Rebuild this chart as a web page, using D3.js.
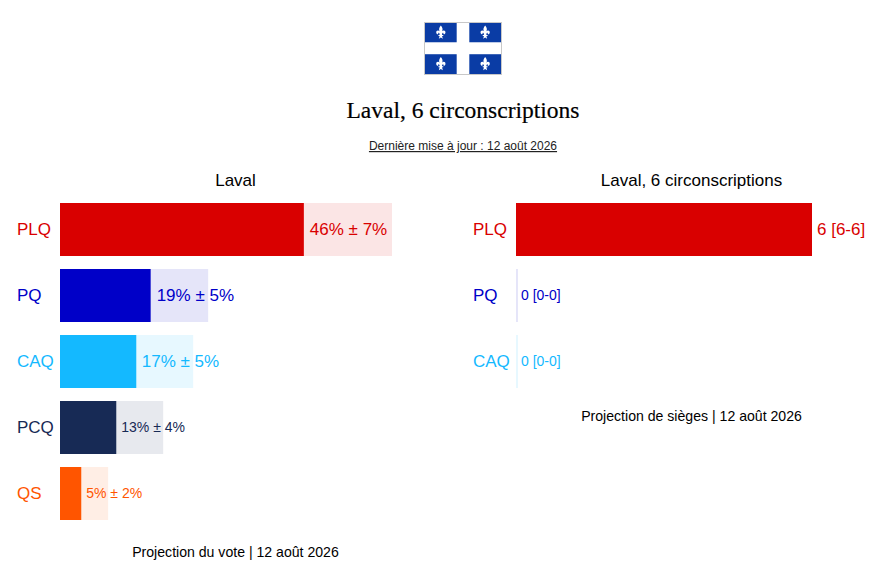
<!DOCTYPE html>
<html>
<head>
<meta charset="utf-8">
<script src="https://cdn.jsdelivr.net/npm/d3@7"></script>
<style>
  html, body { margin: 0; padding: 0; background: #fff; }
  text { font-family: "Liberation Sans", Arial, sans-serif; }
</style>
</head>
<body>
<div id="chart"></div>
<script>
// vote projection
const voteParties = ["PLQ", "PQ", "CAQ", "PCQ", "QS"];
const voteLow = [39, 14.5, 12.2, 9, 3.4];
const voteHigh = [53.1, 23.7, 21.3, 16.5, 7.7];
const voteLabels = ["46% ± 7%", "19% ± 5%", "17% ± 5%", "13% ± 4%", "5% ± 2%"];

// seat projection
const seatParties = ["PLQ", "PQ", "CAQ"];
const seatLow = [6, 0, 0];
const seatHigh = [6, 0.04, 0.04];
const seatLabels = ["6 [6-6]", "0 [0-0]", "0 [0-0]"];

const colors = { PLQ: "#d90000", PQ: "#0000c8", CAQ: "#14b9ff", PCQ: "#172a55", QS: "#ff5500" };

const svg = d3.select("#chart").append("svg")
    .attr("width", 882)
    .attr("height", 580)
    .style("display", "block");

function page_text(x, y, str, size) {
    return svg.append("text")
        .attr("x", x)
        .attr("y", y)
        .attr("text-anchor", "middle")
        .attr("font-size", size)
        .attr("fill", "#000")
        .text(str);
}

// flag
const flagX = d3.scaleLinear().domain([0, 1]).range([424.5, 501.5]);
const flagY = d3.scaleLinear().domain([0, 1]).range([22.5, 74.5]);
const flag = svg.append("g");
flag.append("rect")
    .attr("x", flagX(0)).attr("y", flagY(0))
    .attr("width", flagX(1) - flagX(0)).attr("height", flagY(1) - flagY(0))
    .attr("fill", "#fff").attr("stroke", "#c8c8c8");
const lily = "M0,-7C1.6,-5 2,-3.6 1.1,-1.6C2,-3 4.4,-2.8 4.2,-0.6C4.1,0.8 3,1.3 2.3,0.9C2.6,0.2 2.2,-0.5 1.6,-0.2C1,0.2 1,1 1.2,1.6H2.2V2.5H1.1L1.8,5.2L0,3.9L-1.8,5.2L-1.1,2.5H-2.2V1.6H-1.2C-1,1 -1,0.2 -1.6,-0.2C-2.2,-0.5 -2.6,0.2 -2.3,0.9C-3,1.3 -4.1,0.8 -4.2,-0.6C-4.4,-2.8 -2,-3 -1.1,-1.6C-2,-3.6 -1.6,-5 0,-7Z";
[[0, 0], [1, 0], [0, 1], [1, 1]].forEach(([col, row]) => {
    const x0 = col ? flagX(0.582) : flagX(0) + 0.5;
    const x1 = col ? flagX(1) - 0.5 : flagX(0.418);
    const y0 = row ? flagY(0.61) : flagY(0) + 0.5;
    const y1 = row ? flagY(1) - 0.5 : flagY(0.38);
    flag.append("rect")
        .attr("x", x0).attr("y", y0)
        .attr("width", x1 - x0).attr("height", y1 - y0)
        .attr("fill", "#0a3ca5");
    flag.append("path")
        .attr("d", lily)
        .attr("transform", `translate(${(x0 + x1) / 2},${(y0 + y1) / 2 + 0.5}) scale(1.1)`)
        .attr("fill", "#fff");
});

// header
page_text(463, 118, "Laval, 6 circonscriptions", 23.5)
    .style("font-family", "'Liberation Serif', serif")
    .attr("stroke", "#000")
    .attr("stroke-width", 0.2);
page_text(463, 150, "Dernière mise à jour : 12 août 2026", 12)
    .attr("fill", "#222")
    .attr("text-decoration", "underline");

function drawPanel(opts) {
    const g = svg.append("g");
    const y = d3.scaleBand()
        .domain(opts.parties)
        .range([203, 203 + opts.parties.length * 66 - 13])
        .paddingInner(13 / 66);
    const x = d3.scaleLinear().domain(opts.domain).range(opts.range);

    const rows = g.selectAll("g.row")
        .data(opts.parties)
        .join("g")
        .attr("class", "row");

    rows.append("rect")
        .attr("x", x(0))
        .attr("y", d => y(d))
        .attr("width", (d, i) => x(opts.high[i]) - x(0))
        .attr("height", y.bandwidth())
        .attr("fill", d => colors[d])
        .attr("fill-opacity", 0.1);

    rows.append("rect")
        .attr("x", x(0))
        .attr("y", d => y(d))
        .attr("width", (d, i) => x(opts.low[i]) - x(0))
        .attr("height", y.bandwidth())
        .attr("fill", d => colors[d]);

    rows.append("text")
        .attr("x", opts.range[0] - 43)
        .attr("y", d => y(d) + y.bandwidth() / 2)
        .attr("dy", "0.35em")
        .attr("font-size", 17)
        .attr("fill", d => colors[d])
        .text(d => d);

    rows.append("text")
        .attr("x", (d, i) => x(opts.low[i]) + opts.pads[i])
        .attr("y", d => y(d) + y.bandwidth() / 2)
        .attr("dy", "0.35em")
        .attr("font-size", (d, i) => opts.sizes[i])
        .attr("fill", d => colors[d])
        .text((d, i) => opts.labels[i]);
}

drawPanel({
    parties: voteParties, low: voteLow, high: voteHigh, labels: voteLabels,
    domain: [0, 53.1], range: [60, 392], sizes: [17, 17, 17, 14, 14], pads: [6, 6, 5.5, 5, 5]
});
drawPanel({
    parties: seatParties, low: seatLow, high: seatHigh, labels: seatLabels,
    domain: [0, 6], range: [516, 812], sizes: [17, 14, 14], pads: [5, 5, 5]
});

page_text(235.5, 186, "Laval", 17);
page_text(691.5, 186, "Laval, 6 circonscriptions", 17);
page_text(235.5, 557, "Projection du vote | 12 août 2026", 14.1);
page_text(691.5, 421, "Projection de sièges | 12 août 2026", 14.1);
</script>
</body>
</html>
